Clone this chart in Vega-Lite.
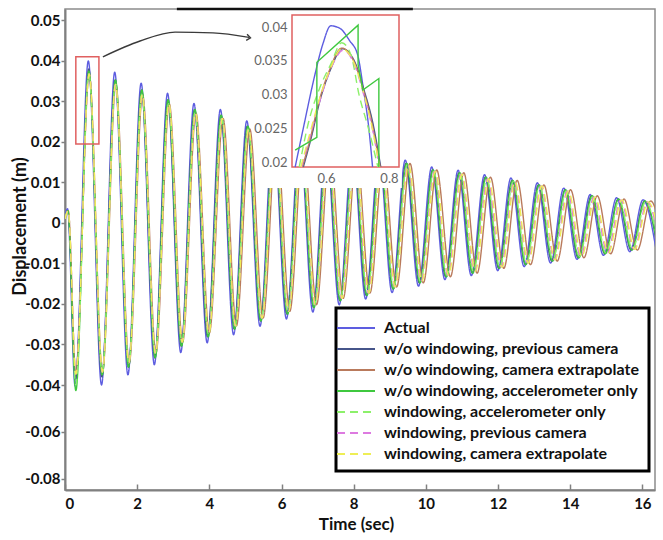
{
  "$schema": "https://vega.github.io/schema/vega-lite/v6.json",
  "width": 590,
  "height": 481,
  "autosize": "none",
  "padding": {"left": 65, "top": 9, "right": 8, "bottom": 50},
  "background": "white",
  "config": {
    "font": "Lato",
    "view": {"stroke": "#8c8c8c", "strokeWidth": 1.5},
    "legend": {"strokeWidth": 3}
  },
  "datasets": {
    "main": [
      {"s":"a","t":0,"y":0.002},{"s":"a","t":0.07,"y":0.0035},{"s":"a","t":0.28,"y":-0.0405},{"s":"a","t":0.646,"y":0.04},{"s":"a","t":1.012,"y":-0.04},{"s":"a","t":1.378,"y":0.0372},{"s":"a","t":1.744,"y":-0.0375},{"s":"a","t":2.11,"y":0.0345},{"s":"a","t":2.476,"y":-0.035},{"s":"a","t":2.842,"y":0.032},{"s":"a","t":3.208,"y":-0.032},{"s":"a","t":3.574,"y":0.0295},{"s":"a","t":3.94,"y":-0.0296},{"s":"a","t":4.306,"y":0.028},{"s":"a","t":4.672,"y":-0.0276},{"s":"a","t":5.038,"y":0.0252},{"s":"a","t":5.404,"y":-0.0255},{"s":"a","t":5.77,"y":0.0235},{"s":"a","t":6.136,"y":-0.0237},{"s":"a","t":6.502,"y":0.0215},{"s":"a","t":6.868,"y":-0.022},{"s":"a","t":7.234,"y":0.02},{"s":"a","t":7.6,"y":-0.0202},{"s":"a","t":7.966,"y":0.0185},{"s":"a","t":8.332,"y":-0.0188},{"s":"a","t":8.698,"y":0.017},{"s":"a","t":9.064,"y":-0.0172},{"s":"a","t":9.43,"y":0.0155},{"s":"a","t":9.796,"y":-0.0156},{"s":"a","t":10.162,"y":0.0138},{"s":"a","t":10.528,"y":-0.014},{"s":"a","t":10.894,"y":0.013},{"s":"a","t":11.26,"y":-0.013},{"s":"a","t":11.626,"y":0.0119},{"s":"a","t":11.992,"y":-0.0118},{"s":"a","t":12.358,"y":0.0111},{"s":"a","t":12.724,"y":-0.0108},{"s":"a","t":13.09,"y":0.0099},{"s":"a","t":13.456,"y":-0.0099},{"s":"a","t":13.822,"y":0.0086},{"s":"a","t":14.188,"y":-0.009},{"s":"a","t":14.554,"y":0.007},{"s":"a","t":14.92,"y":-0.008},{"s":"a","t":15.286,"y":0.0062},{"s":"a","t":15.652,"y":-0.0071},{"s":"a","t":16.018,"y":0.0057},{"s":"a","t":16.384,"y":-0.0068},
      {"s":"b","t":0,"y":0.001},{"s":"b","t":0.08,"y":0.003},{"s":"b","t":0.29,"y":-0.0385},{"s":"b","t":0.66,"y":0.038},{"s":"b","t":1.02,"y":-0.038},{"s":"b","t":1.39,"y":0.0353},{"s":"b","t":1.76,"y":-0.0356},{"s":"b","t":2.12,"y":0.0328},{"s":"b","t":2.49,"y":-0.0333},{"s":"b","t":2.85,"y":0.0304},{"s":"b","t":3.22,"y":-0.0304},{"s":"b","t":3.59,"y":0.028},{"s":"b","t":3.95,"y":-0.0281},{"s":"b","t":4.32,"y":0.0266},{"s":"b","t":4.69,"y":-0.0262},{"s":"b","t":5.05,"y":0.0239},{"s":"b","t":5.42,"y":-0.0242},{"s":"b","t":5.79,"y":0.0223},{"s":"b","t":6.15,"y":-0.0225},{"s":"b","t":6.52,"y":0.0204},{"s":"b","t":6.89,"y":-0.0209},{"s":"b","t":7.25,"y":0.019},{"s":"b","t":7.62,"y":-0.0192},{"s":"b","t":7.99,"y":0.0176},{"s":"b","t":8.35,"y":-0.0179},{"s":"b","t":8.72,"y":0.0162},{"s":"b","t":9.09,"y":-0.0163},{"s":"b","t":9.45,"y":0.0147},{"s":"b","t":9.82,"y":-0.0148},{"s":"b","t":10.19,"y":0.0131},{"s":"b","t":10.55,"y":-0.0133},{"s":"b","t":10.92,"y":0.0124},{"s":"b","t":11.29,"y":-0.0124},{"s":"b","t":11.65,"y":0.0113},{"s":"b","t":12.02,"y":-0.0112},{"s":"b","t":12.39,"y":0.0105},{"s":"b","t":12.76,"y":-0.0103},{"s":"b","t":13.12,"y":0.0094},{"s":"b","t":13.49,"y":-0.0094},{"s":"b","t":13.86,"y":0.0082},{"s":"b","t":14.22,"y":-0.0086},{"s":"b","t":14.59,"y":0.0067},{"s":"b","t":14.96,"y":-0.0076},{"s":"b","t":15.33,"y":0.0059},{"s":"b","t":15.69,"y":-0.0067},{"s":"b","t":16.06,"y":0.0054},{"s":"b","t":16.43,"y":-0.0065},
      {"s":"c","t":0,"y":0.001},{"s":"c","t":0.09,"y":0.003},{"s":"c","t":0.3,"y":-0.0373},{"s":"c","t":0.67,"y":0.0368},{"s":"c","t":1.04,"y":-0.0368},{"s":"c","t":1.41,"y":0.0342},{"s":"c","t":1.78,"y":-0.0345},{"s":"c","t":2.15,"y":0.0317},{"s":"c","t":2.52,"y":-0.0322},{"s":"c","t":2.89,"y":0.0294},{"s":"c","t":3.26,"y":-0.0294},{"s":"c","t":3.63,"y":0.0271},{"s":"c","t":4.0,"y":-0.0272},{"s":"c","t":4.38,"y":0.0258},{"s":"c","t":4.75,"y":-0.0254},{"s":"c","t":5.12,"y":0.0232},{"s":"c","t":5.49,"y":-0.0235},{"s":"c","t":5.86,"y":0.0216},{"s":"c","t":6.23,"y":-0.0218},{"s":"c","t":6.6,"y":0.0198},{"s":"c","t":6.97,"y":-0.0202},{"s":"c","t":7.34,"y":0.0184},{"s":"c","t":7.71,"y":-0.0186},{"s":"c","t":8.08,"y":0.017},{"s":"c","t":8.45,"y":-0.0173},{"s":"c","t":8.82,"y":0.0156},{"s":"c","t":9.19,"y":-0.0158},{"s":"c","t":9.56,"y":0.0147},{"s":"c","t":9.93,"y":-0.0148},{"s":"c","t":10.3,"y":0.0131},{"s":"c","t":10.68,"y":-0.0133},{"s":"c","t":11.05,"y":0.0124},{"s":"c","t":11.42,"y":-0.0124},{"s":"c","t":11.79,"y":0.0113},{"s":"c","t":12.16,"y":-0.0112},{"s":"c","t":12.53,"y":0.0105},{"s":"c","t":12.9,"y":-0.0103},{"s":"c","t":13.27,"y":0.0094},{"s":"c","t":13.64,"y":-0.0094},{"s":"c","t":14.01,"y":0.0082},{"s":"c","t":14.38,"y":-0.0086},{"s":"c","t":14.75,"y":0.0067},{"s":"c","t":15.12,"y":-0.0076},{"s":"c","t":15.49,"y":0.0059},{"s":"c","t":15.86,"y":-0.0067},{"s":"c","t":16.23,"y":0.0054},{"s":"c","t":16.6,"y":-0.0065},
      {"s":"d","t":0,"y":0.001},{"s":"d","t":0.08,"y":0.003},{"s":"d","t":0.3,"y":-0.0424},{"s":"d","t":0.66,"y":0.0375},{"s":"d","t":1.03,"y":-0.0375},{"s":"d","t":1.4,"y":0.0353},{"s":"d","t":1.76,"y":-0.0356},{"s":"d","t":2.13,"y":0.0328},{"s":"d","t":2.5,"y":-0.0333},{"s":"d","t":2.86,"y":0.0304},{"s":"d","t":3.23,"y":-0.0304},{"s":"d","t":3.6,"y":0.028},{"s":"d","t":3.97,"y":-0.0281},{"s":"d","t":4.33,"y":0.0266},{"s":"d","t":4.7,"y":-0.0262},{"s":"d","t":5.07,"y":0.0239},{"s":"d","t":5.43,"y":-0.0242},{"s":"d","t":5.8,"y":0.0223},{"s":"d","t":6.17,"y":-0.0225},{"s":"d","t":6.53,"y":0.0204},{"s":"d","t":6.9,"y":-0.0209},{"s":"d","t":7.27,"y":0.019},{"s":"d","t":7.63,"y":-0.0192},{"s":"d","t":8.0,"y":0.0176},{"s":"d","t":8.37,"y":-0.0179},{"s":"d","t":8.73,"y":0.0162},{"s":"d","t":9.1,"y":-0.0163},{"s":"d","t":9.47,"y":0.0147},{"s":"d","t":9.84,"y":-0.0148},{"s":"d","t":10.2,"y":0.0131},{"s":"d","t":10.57,"y":-0.0133},{"s":"d","t":10.94,"y":0.0124},{"s":"d","t":11.3,"y":-0.0124},{"s":"d","t":11.67,"y":0.0113},{"s":"d","t":12.04,"y":-0.0112},{"s":"d","t":12.41,"y":0.0105},{"s":"d","t":12.77,"y":-0.0103},{"s":"d","t":13.14,"y":0.0094},{"s":"d","t":13.51,"y":-0.0094},{"s":"d","t":13.87,"y":0.0082},{"s":"d","t":14.24,"y":-0.0086},{"s":"d","t":14.61,"y":0.0067},{"s":"d","t":14.97,"y":-0.0076},{"s":"d","t":15.34,"y":0.0059},{"s":"d","t":15.71,"y":-0.0067},{"s":"d","t":16.07,"y":0.0054},{"s":"d","t":16.44,"y":-0.0065},
      {"s":"e","t":0,"y":0.001},{"s":"e","t":0.09,"y":0.003},{"s":"e","t":0.3,"y":-0.04},{"s":"e","t":0.66,"y":0.0368},{"s":"e","t":1.03,"y":-0.0368},{"s":"e","t":1.4,"y":0.0342},{"s":"e","t":1.77,"y":-0.0345},{"s":"e","t":2.13,"y":0.0317},{"s":"e","t":2.5,"y":-0.0322},{"s":"e","t":2.87,"y":0.0294},{"s":"e","t":3.24,"y":-0.0294},{"s":"e","t":3.6,"y":0.0271},{"s":"e","t":3.97,"y":-0.0272},{"s":"e","t":4.34,"y":0.0258},{"s":"e","t":4.71,"y":-0.0254},{"s":"e","t":5.07,"y":0.0232},{"s":"e","t":5.44,"y":-0.0235},{"s":"e","t":5.81,"y":0.0216},{"s":"e","t":6.17,"y":-0.0218},{"s":"e","t":6.54,"y":0.0198},{"s":"e","t":6.91,"y":-0.0202},{"s":"e","t":7.28,"y":0.0184},{"s":"e","t":7.64,"y":-0.0186},{"s":"e","t":8.01,"y":0.017},{"s":"e","t":8.38,"y":-0.0173},{"s":"e","t":8.75,"y":0.0156},{"s":"e","t":9.11,"y":-0.0158},{"s":"e","t":9.48,"y":0.0143},{"s":"e","t":9.85,"y":-0.0144},{"s":"e","t":10.22,"y":0.0127},{"s":"e","t":10.58,"y":-0.0129},{"s":"e","t":10.95,"y":0.012},{"s":"e","t":11.32,"y":-0.012},{"s":"e","t":11.69,"y":0.0109},{"s":"e","t":12.05,"y":-0.0109},{"s":"e","t":12.42,"y":0.0102},{"s":"e","t":12.79,"y":-0.0099},{"s":"e","t":13.15,"y":0.0091},{"s":"e","t":13.52,"y":-0.0091},{"s":"e","t":13.89,"y":0.0079},{"s":"e","t":14.26,"y":-0.0083},{"s":"e","t":14.62,"y":0.0064},{"s":"e","t":14.99,"y":-0.0074},{"s":"e","t":15.36,"y":0.0057},{"s":"e","t":15.73,"y":-0.0065},{"s":"e","t":16.09,"y":0.0052},{"s":"e","t":16.46,"y":-0.0063},
      {"s":"f","t":0,"y":0.001},{"s":"f","t":0.09,"y":0.003},{"s":"f","t":0.3,"y":-0.0373},{"s":"f","t":0.67,"y":0.0368},{"s":"f","t":1.03,"y":-0.0368},{"s":"f","t":1.4,"y":0.0342},{"s":"f","t":1.77,"y":-0.0345},{"s":"f","t":2.14,"y":0.0317},{"s":"f","t":2.51,"y":-0.0322},{"s":"f","t":2.88,"y":0.0294},{"s":"f","t":3.24,"y":-0.0294},{"s":"f","t":3.61,"y":0.0271},{"s":"f","t":3.98,"y":-0.0272},{"s":"f","t":4.35,"y":0.0258},{"s":"f","t":4.72,"y":-0.0254},{"s":"f","t":5.09,"y":0.0232},{"s":"f","t":5.45,"y":-0.0235},{"s":"f","t":5.82,"y":0.0216},{"s":"f","t":6.19,"y":-0.0218},{"s":"f","t":6.56,"y":0.0198},{"s":"f","t":6.93,"y":-0.0202},{"s":"f","t":7.29,"y":0.0184},{"s":"f","t":7.66,"y":-0.0186},{"s":"f","t":8.03,"y":0.017},{"s":"f","t":8.4,"y":-0.0173},{"s":"f","t":8.77,"y":0.0156},{"s":"f","t":9.14,"y":-0.0158},{"s":"f","t":9.5,"y":0.0143},{"s":"f","t":9.87,"y":-0.0144},{"s":"f","t":10.24,"y":0.0127},{"s":"f","t":10.61,"y":-0.0129},{"s":"f","t":10.98,"y":0.012},{"s":"f","t":11.35,"y":-0.012},{"s":"f","t":11.71,"y":0.0109},{"s":"f","t":12.08,"y":-0.0109},{"s":"f","t":12.45,"y":0.0102},{"s":"f","t":12.82,"y":-0.0099},{"s":"f","t":13.19,"y":0.0091},{"s":"f","t":13.56,"y":-0.0091},{"s":"f","t":13.92,"y":0.0079},{"s":"f","t":14.29,"y":-0.0083},{"s":"f","t":14.66,"y":0.0064},{"s":"f","t":15.03,"y":-0.0074},{"s":"f","t":15.4,"y":0.0057},{"s":"f","t":15.77,"y":-0.0065},{"s":"f","t":16.13,"y":0.0052},{"s":"f","t":16.5,"y":-0.0063},
      {"s":"g","t":0,"y":0.001},{"s":"g","t":0.09,"y":0.003},{"s":"g","t":0.3,"y":-0.0373},{"s":"g","t":0.67,"y":0.0368},{"s":"g","t":1.04,"y":-0.0368},{"s":"g","t":1.4,"y":0.0342},{"s":"g","t":1.77,"y":-0.0345},{"s":"g","t":2.14,"y":0.0317},{"s":"g","t":2.51,"y":-0.0322},{"s":"g","t":2.88,"y":0.0294},{"s":"g","t":3.25,"y":-0.0294},{"s":"g","t":3.62,"y":0.0271},{"s":"g","t":3.99,"y":-0.0272},{"s":"g","t":4.36,"y":0.0258},{"s":"g","t":4.73,"y":-0.0254},{"s":"g","t":5.09,"y":0.0232},{"s":"g","t":5.46,"y":-0.0235},{"s":"g","t":5.83,"y":0.0216},{"s":"g","t":6.2,"y":-0.0218},{"s":"g","t":6.57,"y":0.0198},{"s":"g","t":6.94,"y":-0.0202},{"s":"g","t":7.31,"y":0.0184},{"s":"g","t":7.68,"y":-0.0186},{"s":"g","t":8.05,"y":0.017},{"s":"g","t":8.42,"y":-0.0173},{"s":"g","t":8.78,"y":0.0156},{"s":"g","t":9.15,"y":-0.0158},{"s":"g","t":9.52,"y":0.0143},{"s":"g","t":9.89,"y":-0.0144},{"s":"g","t":10.26,"y":0.0127},{"s":"g","t":10.63,"y":-0.0129},{"s":"g","t":11.0,"y":0.012},{"s":"g","t":11.37,"y":-0.012},{"s":"g","t":11.74,"y":0.0109},{"s":"g","t":12.11,"y":-0.0109},{"s":"g","t":12.47,"y":0.0102},{"s":"g","t":12.84,"y":-0.0099},{"s":"g","t":13.21,"y":0.0091},{"s":"g","t":13.58,"y":-0.0091},{"s":"g","t":13.95,"y":0.0079},{"s":"g","t":14.32,"y":-0.0083},{"s":"g","t":14.69,"y":0.0064},{"s":"g","t":15.06,"y":-0.0074},{"s":"g","t":15.43,"y":0.0057},{"s":"g","t":15.79,"y":-0.0065},{"s":"g","t":16.16,"y":0.0052},{"s":"g","t":16.53,"y":-0.0063}
    ],
    "inset": [
      {"s":"a","t":0.502,"y":0.0193},{"s":"a","t":0.53,"y":0.0255},{"s":"a","t":0.56,"y":0.032},{"s":"a","t":0.59,"y":0.0375},{"s":"a","t":0.615,"y":0.0402},{"s":"a","t":0.645,"y":0.0398},{"s":"a","t":0.675,"y":0.038},{"s":"a","t":0.7,"y":0.036},{"s":"a","t":0.72,"y":0.0305},{"s":"a","t":0.735,"y":0.0255},{"s":"a","t":0.748,"y":0.0193},
      {"s":"b","t":0.528,"y":0.0193},{"s":"b","t":0.555,"y":0.024},{"s":"b","t":0.58,"y":0.029},{"s":"b","t":0.615,"y":0.0338},{"s":"b","t":0.652,"y":0.0368},{"s":"b","t":0.69,"y":0.035},{"s":"b","t":0.722,"y":0.0305},{"s":"b","t":0.748,"y":0.026},{"s":"b","t":0.774,"y":0.0193},
      {"s":"c","t":0.525,"y":0.0193},{"s":"c","t":0.55,"y":0.0235},{"s":"c","t":0.575,"y":0.0285},{"s":"c","t":0.61,"y":0.0335},{"s":"c","t":0.65,"y":0.0369},{"s":"c","t":0.69,"y":0.0348},{"s":"c","t":0.72,"y":0.0305},{"s":"c","t":0.745,"y":0.026},{"s":"c","t":0.772,"y":0.0193},
      {"s":"e","t":0.515,"y":0.0193},{"s":"e","t":0.545,"y":0.026},{"s":"e","t":0.58,"y":0.031},{"s":"e","t":0.615,"y":0.0345},{"s":"e","t":0.65,"y":0.0377},{"s":"e","t":0.68,"y":0.0358},{"s":"e","t":0.705,"y":0.03},{"s":"e","t":0.735,"y":0.025},{"s":"e","t":0.765,"y":0.0193},
      {"s":"f","t":0.522,"y":0.0193},{"s":"f","t":0.55,"y":0.024},{"s":"f","t":0.58,"y":0.029},{"s":"f","t":0.615,"y":0.0338},{"s":"f","t":0.655,"y":0.0366},{"s":"f","t":0.69,"y":0.0345},{"s":"f","t":0.72,"y":0.03},{"s":"f","t":0.745,"y":0.0255},{"s":"f","t":0.77,"y":0.0193},
      {"s":"g","t":0.52,"y":0.0193},{"s":"g","t":0.55,"y":0.0245},{"s":"g","t":0.58,"y":0.0295},{"s":"g","t":0.615,"y":0.034},{"s":"g","t":0.65,"y":0.0368},{"s":"g","t":0.69,"y":0.0346},{"s":"g","t":0.72,"y":0.0302},{"s":"g","t":0.745,"y":0.0255},{"s":"g","t":0.77,"y":0.0193}
    ],
    "step": [
      {"i":1,"t":0.502,"y":0.0218},{"i":2,"t":0.571,"y":0.0237},{"i":3,"t":0.571,"y":0.0348},{"i":4,"t":0.702,"y":0.0403},{"i":5,"t":0.702,"y":0.0345},{"i":6,"t":0.717,"y":0.0307},{"i":7,"t":0.768,"y":0.0324},{"i":8,"t":0.768,"y":0.0193}
    ],
    "box": [{"t":0.3,"t2":0.94,"y":0.0195,"y2":0.041}],
    "arrow": [{"t":1.05,"y":0.041},{"t":2.08,"y":0.0449},{"t":3.05,"y":0.0471},{"t":4.1,"y":0.0469},{"t":5.1,"y":0.0458}],
    "head": [{"t":5.14,"y":0.0457}],
    "topline": [{"t":3.1,"t2":9.64,"y":0.0528}],
    "insetbg": [{"t":0.387,"t2":0.841,"y":0.0162,"y2":0.0422}],
    "insetbox": [{"t":0.492,"t2":0.832,"y":0.0193,"y2":0.0418}]
  },
  "layer": [
    {
      "layer": [
        {
          "data": {"name": "main"},
          "mark": {"type": "line", "interpolate": "monotone", "strokeWidth": 1.4, "clip": true},
          "encoding": {
            "x": {"field": "t", "type": "quantitative",
              "scale": {"domain": [0, 16.35], "nice": false, "zero": false},
              "axis": {"values": [0, 2, 4, 6, 8, 10, 12, 14, 16], "labelExpr": "'' + datum.value", "grid": false,
                "domainColor": "#808080", "domainWidth": 2, "tickColor": "#808080", "tickSize": -6, "tickWidth": 1.5,
                "labelFontSize": 15, "labelFontWeight": "bold", "labelColor": "#111", "labelPadding": 12,
                "title": "Time (sec)", "titleFontSize": 17, "titleFontWeight": "bold", "titleColor": "#111",
                "titleX": 291, "titleY": 34, "titleBaseline": "middle", "titleAlign": "center"}},
            "y": {"field": "y", "type": "quantitative",
              "scale": {"domain": [-0.0847, -0.04, 0.0528], "range": [481, 376, 0], "nice": false, "zero": false},
              "axis": {"values": [0.05, 0.04, 0.03, 0.02, 0.01, 0, -0.01, -0.02, -0.03, -0.04, -0.06, -0.08], "labelExpr": "'' + datum.value", "grid": false,
                "domainColor": "#808080", "domainWidth": 2, "tickColor": "#808080", "tickSize": 4, "tickWidth": 1.5,
                "labelFontSize": 15, "labelFontWeight": "bold", "labelColor": "#111", "labelPadding": 1,
                "title": "Displacement (m)", "titleFontSize": 18, "titleFontWeight": "bold", "titleColor": "#111",
                "titleX": -45, "titleY": 217, "titleAngle": -90, "titleBaseline": "middle", "titleAlign": "center"}},
            "color": {"field": "s", "type": "nominal",
              "scale": {"domain": ["a", "b", "c", "d", "e", "f", "g"], "range": ["#5d5de0", "#46558a", "#b97a5c", "#3fc83f", "#8cf06a", "#dd7ae0", "#eeee55"]},
              "legend": {"title": null, "orient": "none", "legendX": 271, "legendY": 299,
                "labelExpr": "datum.label == 'a' ? 'Actual' : datum.label == 'b' ? 'w/o windowing, previous camera' : datum.label == 'c' ? 'w/o windowing, camera extrapolate' : datum.label == 'd' ? 'w/o windowing, accelerometer only' : datum.label == 'e' ? 'windowing, accelerometer only' : datum.label == 'f' ? 'windowing, previous camera' : 'windowing, camera extrapolate'",
                "symbolType": "M-1.9,0H1.9", "symbolSize": 400, "symbolStrokeWidth": 2,
                "labelFont": "Lato", "labelFontSize": 16, "labelFontWeight": "bold", "labelColor": "#111", "labelOffset": 17, "labelLimit": 400,
                "strokeColor": "black", "fillColor": "white", "padding": 9, "rowPadding": 2}},
            "strokeDash": {"field": "s", "type": "nominal",
              "scale": {"domain": ["a", "b", "c", "d", "e", "f", "g"], "range": [[1, 0], [1, 0], [1, 0], [1, 0], [8, 5], [8, 5], [8, 5]]},
              "legend": {"title": null, "orient": "none", "legendX": 271, "legendY": 299,
                "labelExpr": "datum.label == 'a' ? 'Actual' : datum.label == 'b' ? 'w/o windowing, previous camera' : datum.label == 'c' ? 'w/o windowing, camera extrapolate' : datum.label == 'd' ? 'w/o windowing, accelerometer only' : datum.label == 'e' ? 'windowing, accelerometer only' : datum.label == 'f' ? 'windowing, previous camera' : 'windowing, camera extrapolate'",
                "symbolType": "M-1.9,0H1.9", "symbolSize": 400, "symbolStrokeWidth": 2,
                "labelFont": "Lato", "labelFontSize": 16, "labelFontWeight": "bold", "labelColor": "#111", "labelOffset": 17, "labelLimit": 400,
                "strokeColor": "black", "fillColor": "white", "padding": 9, "rowPadding": 2}}
          }
        },
        {
          "data": {"name": "box"},
          "mark": {"type": "rect", "fill": null, "fillOpacity": 0, "stroke": "#e06060", "strokeWidth": 1.5},
          "encoding": {
            "x": {"field": "t", "type": "quantitative"},
            "x2": {"field": "t2"},
            "y": {"field": "y", "type": "quantitative"},
            "y2": {"field": "y2"}
          }
        },
        {
          "data": {"name": "arrow"},
          "mark": {"type": "line", "interpolate": "monotone", "color": "#3a3a3a", "strokeWidth": 1.4},
          "encoding": {
            "x": {"field": "t", "type": "quantitative"},
            "y": {"field": "y", "type": "quantitative"}
          }
        },
        {
          "data": {"name": "head"},
          "mark": {"type": "point", "shape": "M-1,-0.8L0,0L-1,0.8", "filled": false, "stroke": "#3a3a3a", "strokeWidth": 1.4, "size": 60, "angle": 8, "opacity": 1},
          "encoding": {
            "x": {"field": "t", "type": "quantitative"},
            "y": {"field": "y", "type": "quantitative"}
          }
        },
        {
          "data": {"name": "topline"},
          "mark": {"type": "rule", "color": "#111", "strokeWidth": 2.5},
          "encoding": {
            "x": {"field": "t", "type": "quantitative"},
            "x2": {"field": "t2"},
            "y": {"field": "y", "type": "quantitative"}
          }
        }
      ]
    },
    {
      "layer": [
        {
          "data": {"name": "insetbg"},
          "mark": {"type": "rect", "fill": "white", "stroke": null},
          "encoding": {
            "x": {"field": "t", "type": "quantitative",
              "scale": {"domain": [0.492, 0.832], "range": [227, 334], "nice": false, "zero": false},
              "axis": {"values": [0.6, 0.8], "orient": "bottom", "offset": -323, "domain": false, "ticks": false, "grid": false, "zindex": 2,
                "labelExpr": "'' + datum.value", "labelFontSize": 13, "labelColor": "#666", "labelPadding": 5, "title": null}},
            "x2": {"field": "t2"},
            "y": {"field": "y", "type": "quantitative",
              "scale": {"domain": [0.0193, 0.0418], "range": [158, 6], "nice": false, "zero": false},
              "axis": {"values": [0.02, 0.025, 0.03, 0.035, 0.04], "orient": "left", "offset": -227, "domain": false, "ticks": false, "grid": false, "zindex": 2,
                "labelExpr": "'' + datum.value", "labelFontSize": 13, "labelColor": "#666", "labelPadding": 5, "title": null}},
            "y2": {"field": "y2"}
          }
        },
        {
          "data": {"name": "insetbox"},
          "mark": {"type": "rect", "fill": "white", "stroke": "#e06060", "strokeWidth": 1.5},
          "encoding": {
            "x": {"field": "t", "type": "quantitative"},
            "x2": {"field": "t2"},
            "y": {"field": "y", "type": "quantitative"},
            "y2": {"field": "y2"}
          }
        },
        {
          "data": {"name": "inset"},
          "mark": {"type": "line", "interpolate": "monotone", "strokeWidth": 1.4},
          "encoding": {
            "x": {"field": "t", "type": "quantitative"},
            "y": {"field": "y", "type": "quantitative"},
            "color": {"field": "s", "type": "nominal"},
            "strokeDash": {"field": "s", "type": "nominal"}
          }
        },
        {
          "data": {"name": "step"},
          "mark": {"type": "line", "color": "#3fc83f", "strokeWidth": 1.4},
          "encoding": {
            "x": {"field": "t", "type": "quantitative"},
            "y": {"field": "y", "type": "quantitative"},
            "order": {"field": "i", "type": "quantitative"}
          }
        }
      ]
    }
  ],
  "resolve": {"scale": {"x": "independent", "y": "independent"}, "axis": {"x": "independent", "y": "independent"}}
}
